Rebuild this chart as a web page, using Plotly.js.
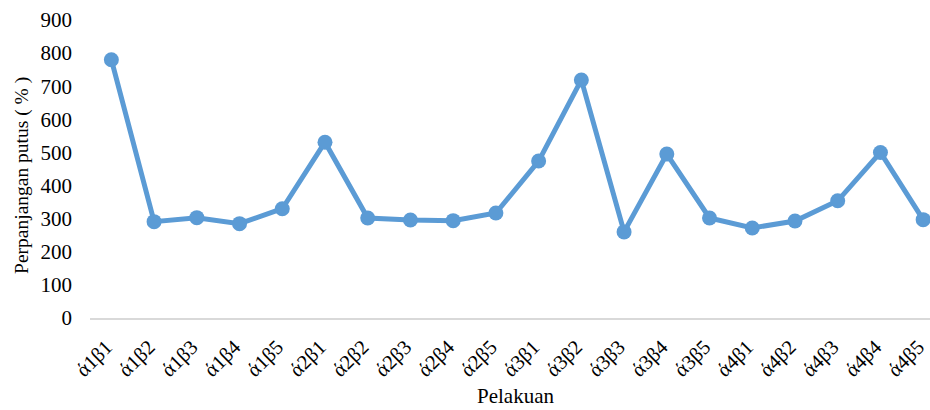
<!DOCTYPE html>
<html>
<head>
<meta charset="utf-8">
<script src="https://cdn.plot.ly/plotly-3.0.1.min.js"></script>
<style>html,body{margin:0;padding:0;background:#fff;}#chart{width:930px;height:410px;}</style>
</head>
<body>
<div id="chart"></div>
<script>
const categories = ["ά1β1","ά1β2","ά1β3","ά1β4","ά1β5","ά2β1","ά2β2","ά2β3","ά2β4","ά2β5","ά3β1","ά3β2","ά3β3","ά3β4","ά3β5","ά4β1","ά4β2","ά4β3","ά4β4","ά4β5"];
const values = [780, 291, 303, 285, 330, 531, 302, 296, 294, 317, 474, 719, 260, 495, 302, 272, 293, 354, 500, 297];
const yTicks = [0,100,200,300,400,500,600,700,800,900];
const yTitle = "Perpanjangan putus ( % )";
const xTitle = "Pelakuan";

const font = "Times New Roman, Liberation Serif, serif";
const trace = {
  x: categories.map((c,i)=>i),
  y: values,
  type: "scatter",
  mode: "lines+markers",
  line: {color: "#5B9BD5", width: 5},
  marker: {color: "#5B9BD5", size: 15},
  hoverinfo: "none",
  cliponaxis: false
};
const layout = {
  width: 930, height: 410,
  margin: {l: 90, r: 0, t: 20, b: 92},
  paper_bgcolor: "#fff", plot_bgcolor: "#fff",
  showlegend: false,
  font: {family: font, size: 20, color: "#000"},
  xaxis: {
    range: [-0.5, 19.16],
    tickmode: "array",
    tickvals: categories.map((c,i)=>i),
    ticktext: categories,
    tickangle: -45,
    ticklabeloverflow: "allow",
    ticklabelshift: -5,
    ticklabelstandoff: 7,
    showgrid: false, zeroline: false,
    showline: true, linecolor: "#d9d9d9", linewidth: 2,
    ticks: "",
    tickfont: {family: font, size: 20.5, color: "#000"}
  },
  yaxis: {
    range: [0, 900],
    tickmode: "array",
    tickvals: yTicks,
    ticktext: yTicks.map(String),
    showgrid: false, zeroline: false, showline: false,
    ticks: "",
    ticklabelstandoff: 17,
    tickfont: {family: font, size: 21, color: "#000"}
  },
  annotations: [
    {text: xTitle, xref: "paper", yref: "paper", x: 0.507, y: -0.262,
     xanchor: "center", yanchor: "middle", showarrow: false,
     font: {family: font, size: 21, color: "#000"}},
    {text: yTitle, xref: "paper", yref: "paper", x: -0.081, y: 0.48,
     xanchor: "center", yanchor: "middle", textangle: -90, showarrow: false,
     font: {family: font, size: 19.5, color: "#000"}}
  ]
};
Plotly.newPlot("chart", [trace], layout, {staticPlot: true, displayModeBar: false});
</script>
</body>
</html>
